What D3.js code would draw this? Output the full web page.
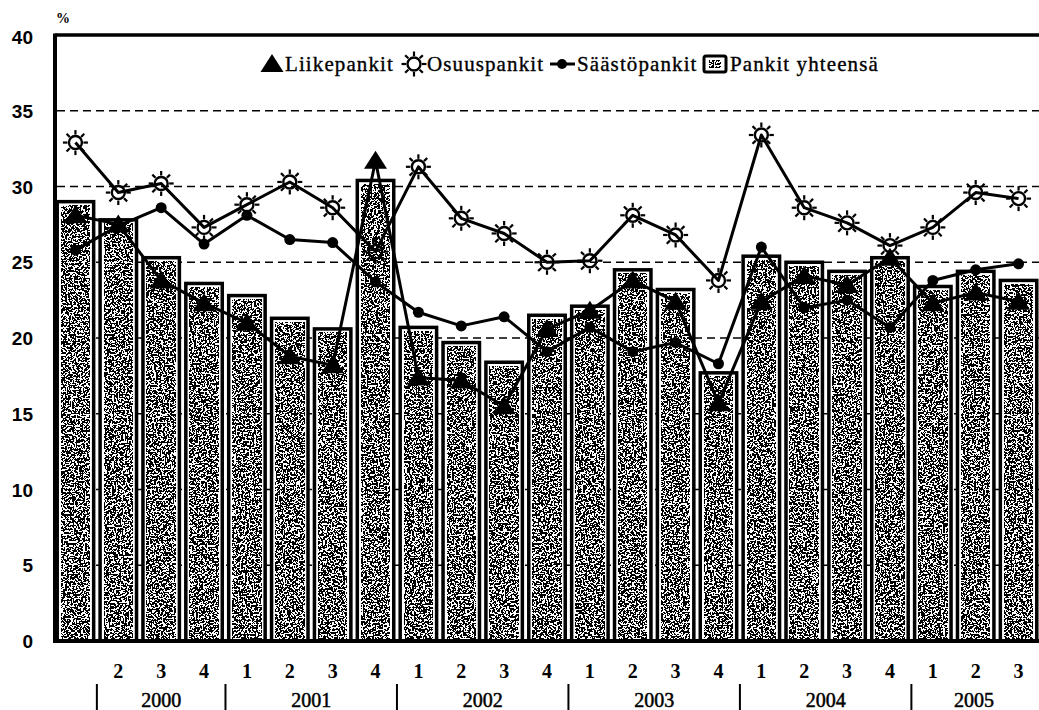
<html>
<style>
  body { margin: 0; background: #fff; }
  svg { display: block; background: #fff; }
  text { fill: #000; }
  .ylab { font: bold 19px "Liberation Sans", sans-serif; }
  .qlab { font: bold 20px "Liberation Serif", serif; }
  .ylabx { font: 20px "Liberation Serif", serif; stroke: #000; stroke-width: 0.5px; }
  .legend text { font: 21px "Liberation Serif", serif; letter-spacing: 1.1px; stroke: #000; stroke-width: 0.35px; }
  .series { fill: none; stroke: #000; stroke-width: 3px; stroke-linejoin: round; }
  .grid { stroke: #000; stroke-width: 1.6px; stroke-dasharray: 8,5; }
</style>
<script src="https://d3js.org/d3.v7.min.js"></script>
<body>
<div id="container"></div>
<script>

// quarters 2000Q1 .. 2005Q3 (first label is blank in the original)
const quarters = ["", "2", "3", "4", "1", "2", "3", "4", "1", "2", "3", "4",
                  "1", "2", "3", "4", "1", "2", "3", "4", "1", "2", "3"];
const years = ["2000", "2001", "2002", "2003", "2004", "2005"];
const yearStart = [1, 4, 8, 12, 16, 20];   // bar index right after each year separator
const yTicks = [0, 5, 10, 15, 20, 25, 30, 35, 40];

const pankitYhteensa = [29.0, 27.8, 25.3, 23.6, 22.8, 21.3, 20.6, 30.4, 20.7, 19.7, 18.4, 21.5,
                        22.1, 24.5, 23.2, 17.7, 25.4, 25.0, 24.4, 25.3, 23.4, 24.4, 23.8];
const liikepankit   = [28.1, 27.5, 23.8, 22.3, 21.0, 18.8, 18.2, 31.7, 17.4, 17.2, 15.5, 20.6,
                        21.8, 23.8, 22.4, 15.7, 22.4, 24.1, 23.5, 25.3, 22.3, 23.0, 22.4];
const osuuspankit   = [32.9, 29.6, 30.2, 27.3, 28.8, 30.3, 28.6, 25.7, 31.3, 27.9, 26.9, 25.0,
                        25.1, 28.1, 26.8, 23.8, 33.4, 28.6, 27.6, 26.1, 27.3, 29.6, 29.2];
const saastopankit  = [25.8, 27.4, 28.6, 26.2, 28.1, 26.5, 26.3, 23.7, 21.7, 20.8, 21.4, 19.1,
                        20.7, 19.1, 19.7, 18.3, 26.0, 22.0, 22.5, 20.7, 23.8, 24.5, 24.9];

const W = 1039, H = 710;
const m = {left: 54, right: 1040, top: 35, bottom: 641};

const svg = d3.select("#container").append("svg")
    .attr("width", W).attr("height", H);

// stipple texture for the bars
const defs = svg.append("defs");
const f = defs.append("filter").attr("id", "stipple")
    .attr("x", 0).attr("y", 0).attr("width", 1).attr("height", 1)
    .attr("color-interpolation-filters", "sRGB");
f.append("feTurbulence").attr("type", "fractalNoise")
    .attr("baseFrequency", 0.55).attr("numOctaves", 2).attr("seed", 11);
f.append("feColorMatrix").attr("type", "matrix")
    .attr("values", "0 0 0 0 0  0 0 0 0 0  0 0 0 0 0  1 0 0 0 0.02");
f.append("feComponentTransfer")
  .append("feFuncA").attr("type", "discrete").attr("tableValues", "0 1");

const idx = d3.range(quarters.length);
const x = d3.scaleBand().domain(idx).range([m.left, m.right]).paddingInner(0.15).paddingOuter(0.075);
const y = d3.scaleLinear().domain([0, 40]).range([m.bottom, m.top]);
const cx = i => x(i) + x.bandwidth() / 2;
const gap = x.step() - x.bandwidth();

// dashed grid
svg.append("g").selectAll("line")
  .data(yTicks.filter(d => d > 0 && d < 40))
  .join("line").attr("class", "grid")
    .attr("x1", m.left + 3).attr("x2", W)
    .attr("y1", d => y(d)).attr("y2", d => y(d));

// bars
const bars = svg.append("g").selectAll("g").data(pankitYhteensa).join("g");
bars.append("rect")
    .attr("x", (d, i) => x(i)).attr("width", x.bandwidth())
    .attr("y", d => y(d)).attr("height", d => y(0) - y(d))
    .attr("fill", "#fff").attr("stroke", "#000").attr("stroke-width", 3.5);
bars.append("rect")
    .attr("x", (d, i) => x(i) + 4).attr("width", x.bandwidth() - 8)
    .attr("y", d => y(d) + 4).attr("height", d => y(0) - y(d) - 4)
    .attr("fill", "#fff").attr("filter", "url(#stipple)");

// frame
svg.append("line").attr("x1", m.left + 1).attr("x2", W).attr("y1", m.top).attr("y2", m.top)
    .attr("stroke", "#000").attr("stroke-width", 3.5);
svg.append("line").attr("x1", m.left + 1).attr("x2", W).attr("y1", m.bottom).attr("y2", m.bottom)
    .attr("stroke", "#000").attr("stroke-width", 4);
svg.append("line").attr("x1", m.left + 1).attr("x2", m.left + 1).attr("y1", m.top - 1.5).attr("y2", m.bottom + 2)
    .attr("stroke", "#000").attr("stroke-width", 4);

// y labels
svg.append("g").selectAll("text").data(yTicks).join("text")
    .attr("class", "ylab")
    .attr("x", 33).attr("y", d => y(d) + (d == 40 ? 9 : 7))
    .attr("text-anchor", "end").text(d => d);
svg.append("text").attr("x", 56).attr("y", 23)
    .style("font", "bold 14px 'Liberation Serif', serif").text("%");

// x labels
svg.append("g").selectAll("text").data(quarters).join("text")
    .attr("class", "qlab")
    .attr("x", (d, i) => cx(i)).attr("y", 678)
    .attr("text-anchor", "middle").text(d => d);

const sepX = yearStart.map(i => x(i) - gap / 2);
svg.append("g").selectAll("line").data(sepX).join("line")
    .attr("x1", d => d).attr("x2", d => d).attr("y1", 684).attr("y2", H)
    .attr("stroke", "#000").attr("stroke-width", 2);
svg.append("g").selectAll("text").data(years).join("text")
    .attr("class", "ylabx")
    .attr("x", (d, i) => i < years.length - 1 ? (sepX[i] + sepX[i + 1]) / 2
                                               : (sepX[i] + x(quarters.length - 1) + x.bandwidth()) / 2)
    .attr("y", 707).attr("text-anchor", "middle").text(d => d);

// lines
const line = d3.line().x((d, i) => cx(i)).y(d => y(d));
[liikepankit, osuuspankit, saastopankit].forEach(s => {
    svg.append("path").attr("class", "series").attr("d", line(s));
});

// markers
const triPath = "M0,-10L11.5,8L-11.5,8Z";
function sun(g) {
    g.append("circle").attr("r", 6.5).attr("fill", "none")
        .attr("stroke", "#000").attr("stroke-width", 2.4);
    g.selectAll("line.ray").data(d3.range(8)).join("line").attr("class", "ray")
        .attr("x1", a => 8 * Math.cos(a * Math.PI / 4)).attr("y1", a => 8 * Math.sin(a * Math.PI / 4))
        .attr("x2", a => 12.5 * Math.cos(a * Math.PI / 4)).attr("y2", a => 12.5 * Math.sin(a * Math.PI / 4))
        .attr("stroke", "#000").attr("stroke-width", 2.2);
}

svg.append("g").selectAll("circle").data(saastopankit).join("circle")
    .attr("cx", (d, i) => cx(i)).attr("cy", d => y(d)).attr("r", 5.5);
svg.append("g").selectAll("g").data(osuuspankit).join("g")
    .attr("transform", (d, i) => `translate(${cx(i)},${y(d)})`)
    .each(function() { sun(d3.select(this)); });
svg.append("g").selectAll("path").data(liikepankit).join("path")
    .attr("d", triPath)
    .attr("transform", (d, i) => `translate(${cx(i)},${y(d)})`);

// legend
const lg = svg.append("g").attr("class", "legend");
const ly = 64;
lg.append("path").attr("d", triPath).attr("transform", `translate(272,${ly})`);
lg.append("text").attr("x", 285).attr("y", ly + 7).text("Liikepankit");
sun(lg.append("g").attr("transform", `translate(414,${ly})`));
lg.append("text").attr("x", 427).attr("y", ly + 7).text("Osuuspankit");
lg.append("line").attr("x1", 550).attr("x2", 575).attr("y1", ly).attr("y2", ly)
    .attr("stroke", "#000").attr("stroke-width", 3);
lg.append("circle").attr("cx", 562).attr("cy", ly).attr("r", 5);
lg.append("text").attr("x", 577).attr("y", ly + 7).text("Säästöpankit");
lg.append("rect").attr("x", 704).attr("y", ly - 8).attr("width", 22).attr("height", 16).attr("rx", 2)
    .attr("fill", "#fff").attr("stroke", "#000").attr("stroke-width", 3);
lg.append("rect").attr("x", 709).attr("y", ly - 4).attr("width", 12).attr("height", 8)
    .attr("fill", "#fff").attr("filter", "url(#stipple)");
lg.append("text").attr("x", 730).attr("y", ly + 7).text("Pankit yhteensä");

</script>
</body>
</html>
